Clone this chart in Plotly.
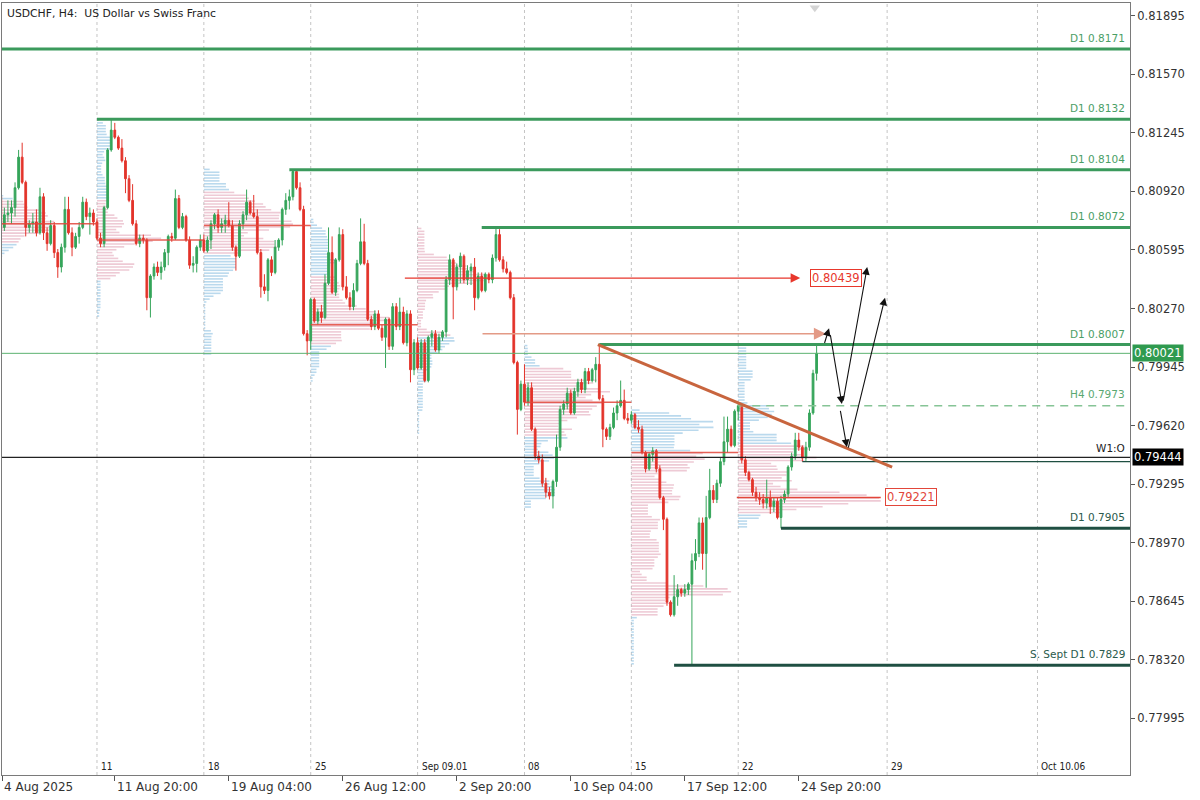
import numpy as np
import plotly.graph_objects as go

# ---------------- data (H4 bars, bar index 0 = Mon 4 Aug 2025 00:00) ----------------
bar_index = list(range(3, 233))

opens = [
    0.8089, 0.8072, 0.8079, 0.8080, 0.8083, 0.8094, 0.8111, 0.8097, 0.8072, 0.8074, 0.8075, 0.8069, 0.8089, 0.8069,
    0.8063, 0.8073, 0.8058, 0.8050, 0.8061, 0.8082, 0.8069, 0.8061, 0.8067, 0.8072, 0.8086, 0.8078, 0.8080,
    0.8075, 0.8066, 0.8063, 0.8083, 0.8115, 0.8126, 0.8122, 0.8116, 0.8109, 0.8099, 0.8087, 0.8074, 0.8063, 0.8066,
    0.8065, 0.8033, 0.8045, 0.8050, 0.8047, 0.8050, 0.8058, 0.8067, 0.8066, 0.8088, 0.8072, 0.8078, 0.8065, 0.8051,
    0.8052, 0.8061,
    0.8065, 0.8059, 0.8065, 0.8074, 0.8079, 0.8072, 0.8074, 0.8076, 0.8073, 0.8061, 0.8056, 0.8074, 0.8079, 0.8086,
    0.8080, 0.8078, 0.8058, 0.8039, 0.8037, 0.8054, 0.8047, 0.8061, 0.8065, 0.8082, 0.8087, 0.8089, 0.8103, 0.8094,
    0.8082, 0.8013,
    0.8009, 0.8032, 0.8020, 0.8025, 0.8022, 0.8041, 0.8058, 0.8036, 0.8054, 0.8068, 0.8039, 0.8033, 0.8028, 0.8037,
    0.8052, 0.8064, 0.8052, 0.8021, 0.8017, 0.8024, 0.8016, 0.8011, 0.8021, 0.8006, 0.8028, 0.8017, 0.8025, 0.8008,
    0.8024, 0.7993,
    0.8008, 0.7994, 0.8008, 0.7987, 0.8011, 0.8013, 0.8004, 0.8011, 0.8014, 0.8043, 0.8054, 0.8039, 0.8050, 0.8056,
    0.8043, 0.8048, 0.8050, 0.8033, 0.8045, 0.8037, 0.8046, 0.8043, 0.8055, 0.8068, 0.8054, 0.8049, 0.8047, 0.8033,
    0.7997, 0.7971,
    0.7985, 0.7975, 0.7983, 0.7960, 0.7945, 0.7943, 0.7930, 0.7925, 0.7923, 0.7931, 0.7950, 0.7971, 0.7974, 0.7980,
    0.7969, 0.7981, 0.7986, 0.7982, 0.7992, 0.7987, 0.7993, 0.7996, 0.7977, 0.7960, 0.7956, 0.7961, 0.7969, 0.7973,
    0.7976, 0.7966,
    0.7965, 0.7968, 0.7961, 0.7960, 0.7947, 0.7938, 0.7946, 0.7948, 0.7938, 0.7922, 0.7910, 0.7864, 0.7857, 0.7867,
    0.7871, 0.7869, 0.7871, 0.7874, 0.7887, 0.7891, 0.7908, 0.7891, 0.7911, 0.7926, 0.7921, 0.7930, 0.7942, 0.7953,
    0.7960, 0.7951,
    0.7970, 0.7973, 0.7943, 0.7936, 0.7932, 0.7925, 0.7922, 0.7921, 0.7919, 0.7922, 0.7917, 0.7920, 0.7911, 0.7921,
    0.7924, 0.7939, 0.7945, 0.7954, 0.7950, 0.7944, 0.7950, 0.7969, 0.7991,
]
highs = [
    0.8091, 0.8083, 0.8087, 0.8087, 0.8097, 0.8115, 0.8119, 0.8098, 0.8076, 0.8080, 0.8082, 0.8094, 0.8091, 0.8072,
    0.8076, 0.8075, 0.8060, 0.8063, 0.8089, 0.8089, 0.8072, 0.8069, 0.8075, 0.8089, 0.8088, 0.8083, 0.8082,
    0.8077, 0.8069, 0.8084, 0.8116, 0.8132, 0.8130, 0.8123, 0.8121, 0.8111, 0.8101, 0.8096, 0.8076, 0.8068, 0.8068,
    0.8066, 0.8046, 0.8052, 0.8053, 0.8053, 0.8060, 0.8068, 0.8069, 0.8093, 0.8090, 0.8080, 0.8079, 0.8067, 0.8056,
    0.8062, 0.8068,
    0.8068, 0.8067, 0.8076, 0.8080, 0.8082, 0.8077, 0.8079, 0.8086, 0.8076, 0.8062, 0.8076, 0.8081, 0.8093, 0.8087,
    0.8090, 0.8082, 0.8060, 0.8046, 0.8055, 0.8056, 0.8065, 0.8066, 0.8083, 0.8091, 0.8093, 0.8104, 0.8104, 0.8097,
    0.8084, 0.8015,
    0.8033, 0.8033, 0.8027, 0.8029, 0.8046, 0.8072, 0.8067, 0.8055, 0.8072, 0.8071, 0.8045, 0.8036, 0.8041, 0.8054,
    0.8077, 0.8074, 0.8054, 0.8023, 0.8026, 0.8026, 0.8018, 0.8022, 0.8022, 0.8030, 0.8030, 0.8033, 0.8028, 0.8026,
    0.8026, 0.8010,
    0.8011, 0.8010, 0.8010, 0.8012, 0.8015, 0.8015, 0.8013, 0.8015, 0.8045, 0.8057, 0.8055, 0.8052, 0.8058, 0.8057,
    0.8051, 0.8052, 0.8055, 0.8047, 0.8047, 0.8047, 0.8047, 0.8057, 0.8072, 0.8071, 0.8056, 0.8053, 0.8048, 0.8035,
    0.7998, 0.7987,
    0.7996, 0.7986, 0.7986, 0.7961, 0.7948, 0.7946, 0.7933, 0.7928, 0.7932, 0.7957, 0.7973, 0.7976, 0.7983, 0.7982,
    0.7983, 0.7988, 0.7988, 0.7994, 0.7994, 0.7994, 0.8000, 0.8007, 0.7979, 0.7961, 0.7963, 0.7972, 0.7976, 0.7987,
    0.7982, 0.7969,
    0.7970, 0.7969, 0.7965, 0.7962, 0.7948, 0.7947, 0.7950, 0.7949, 0.7940, 0.7923, 0.7911, 0.7865, 0.7879, 0.7874,
    0.7872, 0.7874, 0.7875, 0.7891, 0.7899, 0.7911, 0.7911, 0.7923, 0.7938, 0.7929, 0.7932, 0.7944, 0.7967, 0.7967,
    0.7962, 0.7971,
    0.7974, 0.7974, 0.7945, 0.7937, 0.7933, 0.7928, 0.7925, 0.7924, 0.7932, 0.7926, 0.7922, 0.7922, 0.7923, 0.7926,
    0.7940, 0.7947, 0.7958, 0.7958, 0.7951, 0.7953, 0.7971, 0.7993, 0.8007,
]
lows = [
    0.8069, 0.8070, 0.8075, 0.8074, 0.8078, 0.8093, 0.8096, 0.8067, 0.8069, 0.8069, 0.8067, 0.8068, 0.8065, 0.8059,
    0.8062, 0.8055, 0.8044, 0.8047, 0.8058, 0.8068, 0.8056, 0.8060, 0.8063, 0.8071, 0.8076, 0.8068, 0.8073,
    0.8065, 0.8061, 0.8061, 0.8082, 0.8114, 0.8121, 0.8115, 0.8108, 0.8091, 0.8086, 0.8073, 0.8062, 0.8061, 0.8063,
    0.8026, 0.8022, 0.8043, 0.8045, 0.8043, 0.8048, 0.8051, 0.8064, 0.8065, 0.8071, 0.8071, 0.8064, 0.8049, 0.8047,
    0.8047, 0.8059,
    0.8058, 0.8058, 0.8060, 0.8071, 0.8069, 0.8069, 0.8069, 0.8072, 0.8059, 0.8048, 0.8055, 0.8071, 0.8076, 0.8079,
    0.8077, 0.8057, 0.8033, 0.8035, 0.8031, 0.8045, 0.8046, 0.8059, 0.8062, 0.8079, 0.8082, 0.8087, 0.8093, 0.8081,
    0.8012, 0.8001,
    0.8004, 0.8019, 0.8018, 0.8019, 0.8021, 0.8040, 0.8035, 0.8034, 0.8053, 0.8037, 0.8032, 0.8026, 0.8026, 0.8036,
    0.8051, 0.8051, 0.8020, 0.8015, 0.8015, 0.8015, 0.8009, 0.7994, 0.8004, 0.8004, 0.8015, 0.8015, 0.8007, 0.8006,
    0.7986, 0.7990,
    0.7993, 0.7993, 0.7986, 0.7986, 0.8006, 0.8003, 0.8002, 0.8009, 0.8011, 0.8040, 0.8021, 0.8037, 0.8041, 0.8041,
    0.8040, 0.8040, 0.8026, 0.8032, 0.8036, 0.8036, 0.8041, 0.8041, 0.8053, 0.8053, 0.8047, 0.8046, 0.8032, 0.7996,
    0.7957, 0.7970,
    0.7973, 0.7973, 0.7959, 0.7943, 0.7941, 0.7928, 0.7922, 0.7921, 0.7916, 0.7928, 0.7948, 0.7968, 0.7971, 0.7968,
    0.7968, 0.7978, 0.7980, 0.7980, 0.7985, 0.7986, 0.7986, 0.7976, 0.7950, 0.7954, 0.7954, 0.7960, 0.7965, 0.7972,
    0.7965, 0.7963,
    0.7963, 0.7960, 0.7958, 0.7946, 0.7936, 0.7937, 0.7942, 0.7936, 0.7921, 0.7904, 0.7862, 0.7856, 0.7856, 0.7862,
    0.7867, 0.7867, 0.7868, 0.7829, 0.7882, 0.7889, 0.7882, 0.7872, 0.7910, 0.7919, 0.7919, 0.7928, 0.7940, 0.7947,
    0.7950, 0.7950,
    0.7965, 0.7941, 0.7934, 0.7931, 0.7923, 0.7920, 0.7918, 0.7916, 0.7916, 0.7913, 0.7914, 0.7910, 0.7905, 0.7919,
    0.7922, 0.7937, 0.7943, 0.7948, 0.7942, 0.7942, 0.7948, 0.7968, 0.7987,
]
closes = [
    0.8071, 0.8079, 0.8080, 0.8083, 0.8094, 0.8111, 0.8097, 0.8072, 0.8074, 0.8075, 0.8069, 0.8089, 0.8069, 0.8063,
    0.8073, 0.8058, 0.8050, 0.8061, 0.8082, 0.8069, 0.8061, 0.8067, 0.8072, 0.8086, 0.8078, 0.8080, 0.8075,
    0.8066, 0.8063, 0.8083, 0.8115, 0.8126, 0.8122, 0.8116, 0.8109, 0.8099, 0.8087, 0.8074, 0.8063, 0.8066, 0.8065,
    0.8033, 0.8045, 0.8050, 0.8047, 0.8050, 0.8058, 0.8067, 0.8066, 0.8088, 0.8072, 0.8078, 0.8065, 0.8051, 0.8052,
    0.8061, 0.8065,
    0.8059, 0.8065, 0.8074, 0.8079, 0.8072, 0.8074, 0.8076, 0.8073, 0.8061, 0.8056, 0.8074, 0.8079, 0.8086, 0.8080,
    0.8078, 0.8058, 0.8039, 0.8037, 0.8054, 0.8047, 0.8061, 0.8065, 0.8082, 0.8087, 0.8089, 0.8103, 0.8094, 0.8082,
    0.8013, 0.8009,
    0.8032, 0.8020, 0.8025, 0.8022, 0.8041, 0.8058, 0.8036, 0.8054, 0.8068, 0.8039, 0.8033, 0.8028, 0.8037, 0.8052,
    0.8064, 0.8052, 0.8021, 0.8017, 0.8024, 0.8016, 0.8011, 0.8021, 0.8006, 0.8028, 0.8017, 0.8025, 0.8008, 0.8024,
    0.7993, 0.8008,
    0.7994, 0.8008, 0.7987, 0.8011, 0.8013, 0.8004, 0.8011, 0.8014, 0.8043, 0.8054, 0.8039, 0.8050, 0.8056, 0.8043,
    0.8048, 0.8050, 0.8033, 0.8045, 0.8037, 0.8046, 0.8043, 0.8055, 0.8068, 0.8054, 0.8049, 0.8047, 0.8033, 0.7997,
    0.7971, 0.7985,
    0.7975, 0.7983, 0.7960, 0.7945, 0.7943, 0.7930, 0.7925, 0.7923, 0.7931, 0.7950, 0.7971, 0.7974, 0.7980, 0.7969,
    0.7981, 0.7986, 0.7982, 0.7992, 0.7987, 0.7993, 0.7996, 0.7977, 0.7960, 0.7956, 0.7961, 0.7969, 0.7973, 0.7976,
    0.7966, 0.7965,
    0.7968, 0.7961, 0.7960, 0.7947, 0.7938, 0.7946, 0.7948, 0.7938, 0.7922, 0.7910, 0.7864, 0.7857, 0.7867, 0.7871,
    0.7869, 0.7871, 0.7874, 0.7887, 0.7891, 0.7908, 0.7891, 0.7911, 0.7926, 0.7921, 0.7930, 0.7942, 0.7953, 0.7960,
    0.7951, 0.7970,
    0.7973, 0.7943, 0.7936, 0.7932, 0.7925, 0.7922, 0.7921, 0.7919, 0.7922, 0.7917, 0.7920, 0.7911, 0.7921, 0.7924,
    0.7939, 0.7945, 0.7954, 0.7950, 0.7944, 0.7950, 0.7969, 0.7991, 0.80021,
]

# time axis
time_tick_index = [3.4, 35, 67, 99, 131, 163, 195, 227]
time_tick_labels = ["4 Aug 2025", "11 Aug 20:00", "19 Aug 04:00", "26 Aug 12:00",
                    "2 Sep 20:00", "10 Sep 04:00", "17 Sep 12:00", "24 Sep 20:00"]
sep_index = [0, 30, 60, 90, 120, 150, 180, 210, 251.8, 294.0]
sep_labels = ["Ago 08.04", "11", "18", "25", "Sep 09.01", "08", "15", "22", "29", "Oct 10.06"]
x_view = [3.34, 319.97]

# price axis
price_ticks = [0.81895, 0.81570, 0.81245, 0.80920, 0.80595, 0.80270, 0.79945,
               0.79620, 0.79295, 0.78970, 0.78645, 0.78320, 0.77995]
y_view = [0.776808, 0.819654]
last_price = 0.80021
week_open = 0.79444

# key levels
d1_names = ["D1 0.8171", "D1 0.8132", "D1 0.8104", "D1 0.8072", "D1 0.8007"]
d1_prices = [0.8171, 0.8132, 0.8104, 0.8072, 0.8007]
d1_start = [0, 30, 84, 138, 171]
h4_name, h4_price, h4_start = "H4 0.7973", 0.7973, 210
low_names = ["D1 0.7905", "S. Sept D1 0.7829"]
low_prices = [0.7905, 0.7829]
low_start = [222, 192]
minor_low_price, minor_low_start = 0.7942, 228

# weekly volume profile
profile_week_start = [0, 30, 60, 90, 120, 150, 180, 210]
profile_max_len = [18, 18, 25, 22, 19, 24, 28, 40]
poc_prices = [0.8074, 0.8065, 0.8073, 0.8018, 0.7975, 0.7947]
poc_start = [0, 30, 60, 90, 150, 180]
profile_bin = 0.00016

# analyst drawings
target_price, target_from, target_to = 0.80439, 116, 227.4
salmon_price, salmon_from, salmon_to = 0.8013, 137.8, 234.6
poc8_price, poc8_from, poc8_to = 0.79221, 209.6, 250.0
trend_x = [170.6, 253.2]
trend_y = [0.8007, 0.7939]
scenario_tail_x = [234.1, 235.8, 239.4, 238.6, 240.8]
scenario_tail_y = [0.8007, 0.8013, 0.7975, 0.7971, 0.7949]
scenario_head_x = [235.5, 239.1, 246.2, 240.5, 251.2]
scenario_head_y = [0.8016, 0.7974, 0.8050, 0.7950, 0.8033]
target_box_x = 230.2
poc8_box_x = 251.2

# ---------------- figure ----------------
FONT = "DejaVu Sans"
GREEN = "#3b9a5c"
DARK = "#1f4f42"
fig = go.Figure()

# volume profiles (time-at-price from each week's bars)
bi = np.array(bar_index)
hi_a = np.array(highs)
lo_a = np.array(lows)
for ws, ml in zip(profile_week_start, profile_max_len):
    m = (bi >= ws) & (bi < ws + 30)
    lo, hi = lo_a[m].min(), hi_a[m].max()
    edges = np.arange(lo, hi + profile_bin, profile_bin)
    counts = np.zeros(len(edges) - 1)
    for L, H in zip(lo_a[m], hi_a[m]):
        ov = np.clip(np.minimum(edges[1:], H) - np.maximum(edges[:-1], L), 0, None)
        if H > L:
            counts += ov / (H - L)
    n = len(counts)
    poc = int(np.argmax(counts))
    a = b = poc
    acc, tot = counts[poc], counts.sum()
    while acc < 0.7 * tot and (a > 0 or b < n - 1):
        up = counts[b + 1] if b < n - 1 else -1
        dn = counts[a - 1] if a > 0 else -1
        if up >= dn:
            b += 1
            acc += up
        else:
            a -= 1
            acc += dn
    centers = (edges[:-1] + edges[1:]) / 2
    lengths = counts / counts.max() * ml
    inva = np.zeros(n, bool)
    inva[a:b + 1] = True
    for mask, col in [(~inva, "rgba(130,185,222,0.55)"), (inva, "rgba(222,150,172,0.50)")]:
        fig.add_trace(go.Bar(
            orientation="h", y=centers[mask], x=lengths[mask], base=[ws] * int(mask.sum()),
            width=profile_bin * 0.55, marker=dict(color=col, line=dict(width=0)),
            showlegend=False, hoverinfo="skip"))

fig.add_trace(go.Candlestick(
    x=bar_index, open=opens, high=highs, low=lows, close=closes,
    increasing=dict(line=dict(color="#35a55a", width=1), fillcolor="#35a55a"),
    decreasing=dict(line=dict(color="#e3342b", width=1), fillcolor="#e3342b"),
    whiskerwidth=0, showlegend=False, hoverinfo="skip"))

# chart-shift marker above the last bar
fig.add_trace(go.Scatter(
    x=[bar_index[-1] - 0.5], y=[y_view[1] - (y_view[1] - y_view[0]) * 0.006], mode="markers",
    marker=dict(symbol="triangle-down", size=9, color="#d4d4d4"), cliponaxis=False,
    showlegend=False, hoverinfo="skip"))

shapes = []
ann = []

def hline(y, x0, x1, color, width, dash="solid", opacity=1.0):
    shapes.append(dict(type="line", xref="x", yref="y", x0=x0, x1=x1, y0=y, y1=y,
                       line=dict(color=color, width=width, dash=dash), opacity=opacity))

# weekly separators
for s, lab in zip(sep_index, sep_labels):
    shapes.append(dict(type="line", xref="x", yref="paper", x0=s, x1=s, y0=0, y1=1,
                       line=dict(color="#c4c4c4", width=1, dash="3px,3px"), layer="below"))
    ann.append(dict(x=s, xref="x", y=0, yref="paper", text=lab, showarrow=False,
                    xanchor="left", yanchor="bottom", xshift=2, yshift=1,
                    font=dict(family="Liberation Sans Narrow, DejaVu Sans Condensed", size=10, color="#222")))

# POC lines
for p, s in zip(poc_prices, poc_start):
    hline(p, s, s + 30, "#e2463a", 1.5, opacity=0.85)

# reference lines
hline(last_price, x_view[0], 330, "#5cb270", 1)
hline(week_open, x_view[0], 330, "#222222", 1.2)
for nm, p, s in zip(d1_names, d1_prices, d1_start):
    hline(p, s, 330, GREEN, 3)
    ann.append(dict(x=1, xref="paper", y=p, yref="y", text=nm, showarrow=False,
                    xanchor="right", yanchor="bottom", xshift=-3, yshift=3,
                    font=dict(family=FONT, size=10.5, color="#4a9e66")))
hline(h4_price, h4_start, 330, "#86c496", 1.5, dash="8px,6px")
ann.append(dict(x=1, xref="paper", y=h4_price, yref="y", text=h4_name, showarrow=False,
                xanchor="right", yanchor="bottom", xshift=-3, yshift=4,
                font=dict(family=FONT, size=10.5, color="#5aa872")))
for nm, p, s in zip(low_names, low_prices, low_start):
    hline(p, s, 330, DARK, 3)
    ann.append(dict(x=1, xref="paper", y=p, yref="y", text=nm, showarrow=False,
                    xanchor="right", yanchor="bottom", xshift=-3, yshift=3,
                    font=dict(family=FONT, size=10.5, color="#2a5a4c")))
hline(minor_low_price, minor_low_start, 330, DARK, 1.2)
ann.append(dict(x=1, xref="paper", y=week_open, yref="y", text="W1:O", showarrow=False,
                xanchor="right", yanchor="bottom", xshift=-3, yshift=1,
                font=dict(family=FONT, size=10.5, color="#222")))

# week-8 POC with label
hline(poc8_price, poc8_from, poc8_to, "#e2463a", 1.5)
ann.append(dict(x=poc8_box_x, xref="x", y=poc8_price, yref="y", text=f"{poc8_price:.5f}",
                showarrow=False, xanchor="left", bgcolor="white", bordercolor="#e2463a",
                borderwidth=1, borderpad=1, font=dict(family=FONT, size=11.5, color="#e2463a")))

# target arrow 0.80439
ann.append(dict(x=target_to, y=target_price, xref="x", yref="y", ax=target_from, ay=target_price,
                axref="x", ayref="y", text="", showarrow=True, arrowhead=2, arrowsize=1.6,
                arrowwidth=1.2, arrowcolor="#e8372c"))
ann.append(dict(x=target_box_x, xref="x", y=target_price, yref="y", text=f"{target_price:.5f}",
                showarrow=False, xanchor="left", bgcolor="white", bordercolor="#e8372c",
                borderwidth=1, borderpad=1, font=dict(family=FONT, size=11.5, color="#e8372c")))
# salmon arrow
ann.append(dict(x=salmon_to, y=salmon_price, xref="x", yref="y", ax=salmon_from, ay=salmon_price,
                axref="x", ayref="y", text="", showarrow=True, arrowhead=2, arrowsize=1.6,
                arrowwidth=1.5, arrowcolor="#e39a86"))

# trend line
shapes.append(dict(type="line", xref="x", yref="y", x0=trend_x[0], x1=trend_x[1],
                   y0=trend_y[0], y1=trend_y[1], line=dict(color="#c8653e", width=3)))

# scenario arrows
for tx, ty, hx, hy in zip(scenario_tail_x, scenario_tail_y, scenario_head_x, scenario_head_y):
    ann.append(dict(x=hx, y=hy, xref="x", yref="y", ax=tx, ay=ty, axref="x", ayref="y",
                    text="", showarrow=True, arrowhead=2, arrowsize=1.4, arrowwidth=1.1,
                    arrowcolor="#111"))

# bottom time labels
for t, lab in zip(time_tick_index, time_tick_labels):
    ann.append(dict(x=t, xref="x", y=0, yref="paper", text=lab, showarrow=False,
                    xanchor="left", yanchor="top", xshift=0, yshift=-3,
                    font=dict(family=FONT, size=12, color="#333")))

# price boxes on the axis
ann.append(dict(x=1, xref="paper", y=last_price, yref="y", text=f"{last_price:.5f}", showarrow=False,
                xanchor="left", xshift=2, bgcolor="#2f9a4f", borderpad=1,
                font=dict(family=FONT, size=11.5, color="white")))
ann.append(dict(x=1, xref="paper", y=week_open, yref="y", text=f"{week_open:.5f}", showarrow=False,
                xanchor="left", xshift=2, bgcolor="#000000", borderpad=1,
                font=dict(family=FONT, size=11.5, color="white")))

# title
ann.append(dict(x=0, xref="paper", y=1, yref="paper", text="USDCHF, H4:\u00a0 US Dollar vs Swiss Franc",
                showarrow=False, xanchor="left", yanchor="top", xshift=3, yshift=-2,
                font=dict(family=FONT, size=10.8, color="#222")))

fig.update_layout(
    width=1200, height=800,
    margin=dict(l=2, r=70, t=3, b=25),
    paper_bgcolor="white", plot_bgcolor="white",
    shapes=shapes, annotations=ann, showlegend=False, barmode="overlay",
    xaxis=dict(range=x_view, showgrid=False, zeroline=False, rangeslider=dict(visible=False),
               tickvals=time_tick_index, showticklabels=False, ticks="outside", ticklen=5,
               tickcolor="#555", showline=True, mirror=True, linecolor="#7a7a7a", linewidth=1),
    yaxis=dict(range=y_view, side="right", showgrid=False, zeroline=False,
               tickvals=price_ticks, ticktext=[f"{v:.5f}" for v in price_ticks],
               ticks="outside", ticklen=4, tickcolor="#555",
               tickfont=dict(family=FONT, size=11.5, color="#333"),
               showline=True, mirror=True, linecolor="#7a7a7a", linewidth=1),
)

fig.write_html("out.html", config={"displayModeBar": False},
               post_script="document.body.style.margin='0px';")
